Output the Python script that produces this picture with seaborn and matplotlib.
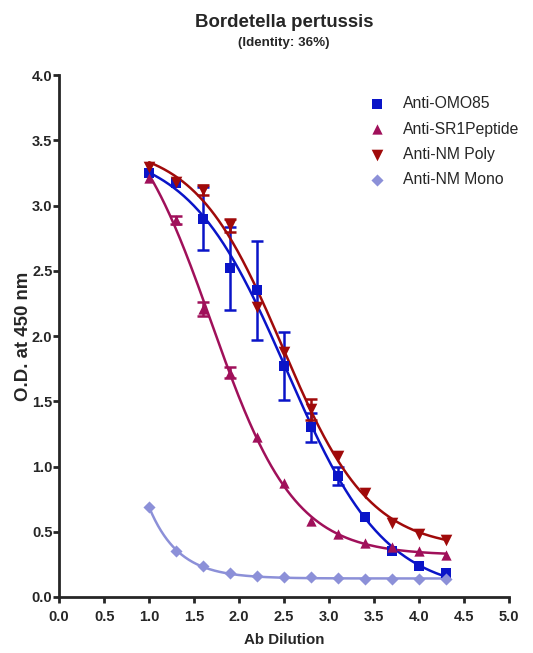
import numpy as np
import pandas as pd
import matplotlib
matplotlib.use("Agg")
import matplotlib.pyplot as plt
from matplotlib import font_manager
import seaborn as sns

# ---- data ----
dilution = [1.0, 1.3, 1.6, 1.9, 2.2, 2.5, 2.8, 3.1, 3.4, 3.7, 4.0, 4.3]
series_names = ["Anti-OMO85", "Anti-SR1Peptide", "Anti-NM Poly", "Anti-NM Mono"]
omo85 = [3.25, 3.17, 2.90, 2.52, 2.35, 1.77, 1.30, 0.93, 0.61, 0.35, 0.24, 0.18]
omo85_err = [0, 0, 0.24, 0.32, 0.38, 0.26, 0.11, 0.07, 0, 0, 0, 0]
sr1 = [3.21, 2.89, 2.21, 1.72, 1.23, 0.87, 0.58, 0.48, 0.41, 0.38, 0.35, 0.32]
sr1_err = [0, 0.03, 0.055, 0.045, 0, 0, 0, 0, 0, 0, 0, 0]
nmpoly = [3.30, 3.18, 3.12, 2.85, 2.22, 1.88, 1.44, 1.08, 0.80, 0.57, 0.48, 0.44]
nmpoly_err = [0, 0, 0.035, 0.05, 0, 0, 0.08, 0, 0, 0, 0, 0]
nmmono = [0.69, 0.35, 0.24, 0.18, 0.16, 0.155, 0.15, 0.145, 0.14, 0.135, 0.135, 0.135]
nmmono_err = [0] * 12

colors = ["#0A14C8", "#A0105A", "#A00A0A", "#8C90D8"]
markers = ["s", "^", "v", "D"]
msizes = [55, 55, 70, 38]


def fit4pl(x, y):
    x = np.asarray(x, float)
    y = np.asarray(y, float)
    p = np.array([y.min(), y.max(), x[np.argmin(np.abs(y - (y.min() + y.max()) / 2))], 1.0])

    def f(p, x):
        b, t, c, h = p
        return b + (t - b) / (1 + 10 ** ((x - c) * h))

    lam = 1e-2
    for _ in range(3000):
        r = y - f(p, x)
        J = np.zeros((len(x), 4))
        for i in range(4):
            dp = np.zeros(4)
            dp[i] = 1e-6
            J[:, i] = (f(p + dp, x) - f(p - dp, x)) / 2e-6
        A = J.T @ J
        g = J.T @ r
        step = np.linalg.solve(A + lam * np.diag(np.diag(A) + 1e-9), g)
        pn = p + step
        if np.sum((y - f(pn, x)) ** 2) < np.sum(r ** 2):
            p = pn
            lam *= 0.5
        else:
            lam *= 3
    return lambda xx: f(p, xx)


sns.set_style("ticks")

# prefer a narrow Arial-like face; fall back to Liberation Sans scaled down
try:
    font_manager.findfont(font_manager.FontProperties(family="Liberation Sans Narrow"),
                          fallback_to_default=False)
    NARROW = "Liberation Sans Narrow"
    k = 1.0
except Exception:
    NARROW = "Liberation Sans"
    k = 0.84
plt.rcParams["font.family"] = [NARROW, "Liberation Sans", "DejaVu Sans"]
nfam = [NARROW, "Liberation Sans", "DejaVu Sans"]
wfam = ["Liberation Sans", "DejaVu Sans"]

fig = plt.figure(figsize=(5.33, 6.53), dpi=100)
ax = fig.add_axes([0.111, 0.0858, 0.844, 0.799])

all_y = [omo85, sr1, nmpoly, nmmono]
all_e = [omo85_err, sr1_err, nmpoly_err, nmmono_err]
xs = np.linspace(min(dilution), max(dilution), 300)
for name, ys, es, c, m, s in zip(series_names, all_y, all_e, colors, markers, msizes):
    fn = fit4pl(dilution, ys)
    sns.lineplot(x=xs, y=fn(xs), color=c, lw=1.8, ax=ax, legend=False)
    ex = [d for d, e in zip(dilution, es) if e > 0]
    ey = [v for v, e in zip(ys, es) if e > 0]
    ee = [e for e in es if e > 0]
    if ex:
        ax.errorbar(ex, ey, yerr=ee, fmt="none", ecolor=c, elinewidth=1.8,
                    capsize=4, capthick=1.8)
    df = pd.DataFrame({"x": dilution, "y": ys})
    sns.scatterplot(data=df, x="x", y="y", marker=m, color=c, s=s, linewidth=0,
                    ax=ax, label=name, zorder=5)

ax.set_xlim(0, 5.0)
ax.set_ylim(0, 4.0)
ax.set_xticks(np.arange(0, 5.01, 0.5))
ax.set_yticks(np.arange(0, 4.01, 0.5))
ax.set_xticklabels([f"{v:.1f}" for v in np.arange(0, 5.01, 0.5)])
ax.set_yticklabels([f"{v:.1f}" for v in np.arange(0, 4.01, 0.5)])
for sp in ["top", "right"]:
    ax.spines[sp].set_visible(False)
for sp in ["left", "bottom"]:
    ax.spines[sp].set_linewidth(2)
ax.tick_params(width=2, length=4, labelsize=12.5 * k)
ax.tick_params(axis="x", pad=5.5)
ax.tick_params(axis="y", pad=0.8)
for lab in ax.get_xticklabels() + ax.get_yticklabels():
    lab.set_fontweight("bold")
    lab.set_family(nfam)

ax.set_xlabel("Ab Dilution", fontsize=13 * k, fontweight="bold", labelpad=6, family=nfam)
ax.set_ylabel("O.D. at 450 nm", fontsize=13.4, fontweight="bold", labelpad=0, family=wfam)

fig.text(0.533, 0.965, "Bordetella pertussis", ha="center", va="center",
         fontsize=16 * k, fontweight="bold", family=nfam)
fig.text(0.533, 0.934, "(Identity: 36%)", ha="center", va="center",
         fontsize=11.5 * k, fontweight="bold", family=nfam)

leg = ax.legend(loc="upper left", frameon=False,
                prop={"family": nfam, "size": 13.5 * k},
                bbox_to_anchor=(0.657, 0.972), handletextpad=0.65, labelspacing=0.66,
                borderaxespad=0)

fig.savefig("out.png", dpi=100)
